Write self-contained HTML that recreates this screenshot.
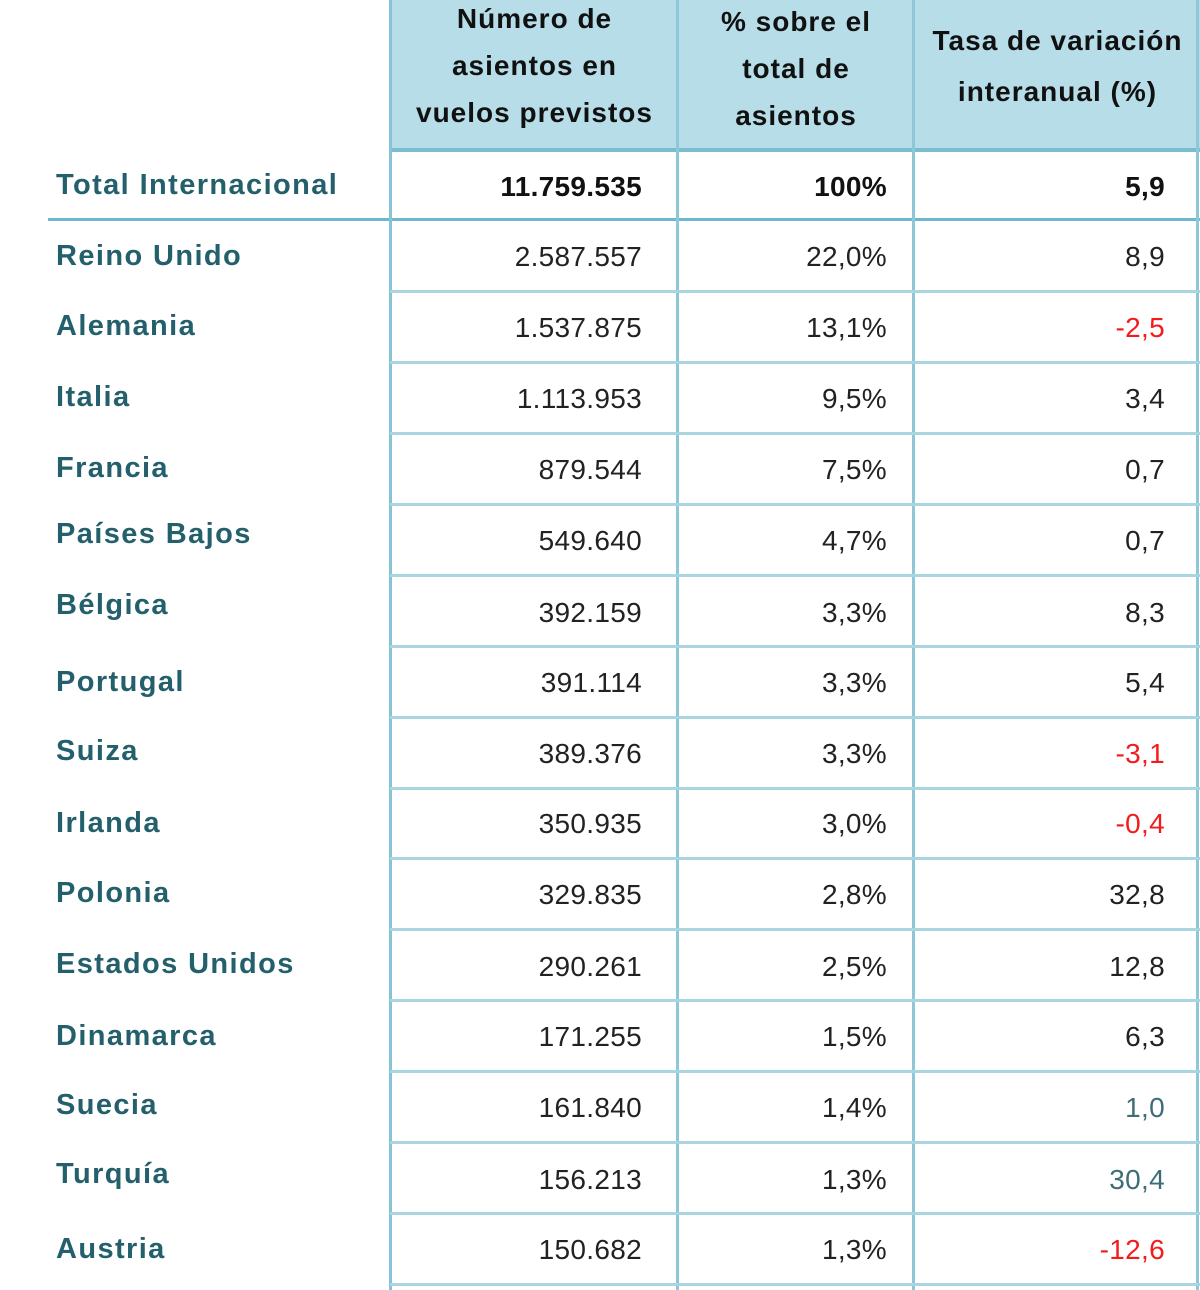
<!DOCTYPE html>
<html><head><meta charset="utf-8"><style>
html,body{margin:0;padding:0;background:#fff;width:1200px;height:1290px;overflow:hidden;position:relative;font-family:"Liberation Sans",sans-serif}
.a{position:absolute}
.hdr{background:#b6dde8;top:0;height:150px}
.ht{position:absolute;font-weight:bold;color:#111;font-size:28px;letter-spacing:1px;text-align:center;line-height:47px}
.v{position:absolute;width:3px;background:#a9d5e1}
.h{position:absolute;height:3px;background:#a9d5e1;left:390px;width:810px}
.lb{position:absolute;left:56px;font-weight:bold;color:#23606c;font-size:29px;letter-spacing:1.4px;line-height:34px}
.n{position:absolute;font-size:28px;color:#222;text-align:right;line-height:34px;letter-spacing:0.3px}
.r{color:#f31b1b}.t{color:#3d6e78}
</style></head><body>
<div class="a hdr" style="left:390px;width:810px"></div>
<div class="ht" style="left:380px;width:309px;top:-5px">Número de<br>asientos en<br>vuelos previstos</div>
<div class="ht" style="left:679px;width:234px;top:-2px">% sobre el<br>total de<br>asientos</div>
<div class="ht" style="left:905px;width:305px;top:15px;line-height:51px">Tasa de variación<br>interanual (%)</div>
<div class="a" style="left:390px;top:148px;width:810px;height:4px;background:#79bdd0"></div>
<div class="a" style="left:48px;top:218px;width:1152px;height:3px;background:#6db7cc"></div>
<div class="v" style="left:389px;top:0;height:1290px;background:#85c4d6"></div>
<div class="v" style="left:676px;top:0;height:1290px;background:#8ec8d8"></div>
<div class="v" style="left:912px;top:0;height:1290px;background:#8ec8d8"></div>
<div class="v" style="left:1196px;top:0;height:1290px;background:#8ec8d8"></div>
<div class="h" style="top:290px"></div><div class="h" style="top:361px"></div><div class="h" style="top:432px"></div><div class="h" style="top:503px"></div><div class="h" style="top:574px"></div><div class="h" style="top:645px"></div><div class="h" style="top:716px"></div><div class="h" style="top:787px"></div><div class="h" style="top:857px"></div><div class="h" style="top:928px"></div><div class="h" style="top:999px"></div><div class="h" style="top:1070px"></div><div class="h" style="top:1141px"></div><div class="h" style="top:1212px"></div><div class="h" style="top:1283px"></div>

<div class="lb" style="top:168px">Total Internacional</div>
<div class="n" style="top:170px;right:558px;font-weight:bold;color:#111">11.759.535</div>
<div class="n" style="top:170px;right:313px;font-weight:bold;color:#111">100%</div>
<div class="n" style="top:170px;right:35px;font-weight:bold;color:#111">5,9</div>

<div class="lb" style="top:239px">Reino Unido</div><div class="n" style="top:240px;right:558px">2.587.557</div><div class="n" style="top:240px;right:313px">22,0%</div><div class="n" style="top:240px;right:35px">8,9</div>
<div class="lb" style="top:309px">Alemania</div><div class="n" style="top:311px;right:558px">1.537.875</div><div class="n" style="top:311px;right:313px">13,1%</div><div class="n r" style="top:311px;right:35px">-2,5</div>
<div class="lb" style="top:380px">Italia</div><div class="n" style="top:382px;right:558px">1.113.953</div><div class="n" style="top:382px;right:313px">9,5%</div><div class="n" style="top:382px;right:35px">3,4</div>
<div class="lb" style="top:451px">Francia</div><div class="n" style="top:453px;right:558px">879.544</div><div class="n" style="top:453px;right:313px">7,5%</div><div class="n" style="top:453px;right:35px">0,7</div>
<div class="lb" style="top:517px">Países Bajos</div><div class="n" style="top:524px;right:558px">549.640</div><div class="n" style="top:524px;right:313px">4,7%</div><div class="n" style="top:524px;right:35px">0,7</div>
<div class="lb" style="top:588px">Bélgica</div><div class="n" style="top:596px;right:558px">392.159</div><div class="n" style="top:596px;right:313px">3,3%</div><div class="n" style="top:596px;right:35px">8,3</div>
<div class="lb" style="top:665px">Portugal</div><div class="n" style="top:666px;right:558px">391.114</div><div class="n" style="top:666px;right:313px">3,3%</div><div class="n" style="top:666px;right:35px">5,4</div>
<div class="lb" style="top:734px">Suiza</div><div class="n" style="top:737px;right:558px">389.376</div><div class="n" style="top:737px;right:313px">3,3%</div><div class="n r" style="top:737px;right:35px">-3,1</div>
<div class="lb" style="top:806px">Irlanda</div><div class="n" style="top:807px;right:558px">350.935</div><div class="n" style="top:807px;right:313px">3,0%</div><div class="n r" style="top:807px;right:35px">-0,4</div>
<div class="lb" style="top:876px">Polonia</div><div class="n" style="top:878px;right:558px">329.835</div><div class="n" style="top:878px;right:313px">2,8%</div><div class="n" style="top:878px;right:35px">32,8</div>
<div class="lb" style="top:947px">Estados Unidos</div><div class="n" style="top:950px;right:558px">290.261</div><div class="n" style="top:950px;right:313px">2,5%</div><div class="n" style="top:950px;right:35px">12,8</div>
<div class="lb" style="top:1019px">Dinamarca</div><div class="n" style="top:1020px;right:558px">171.255</div><div class="n" style="top:1020px;right:313px">1,5%</div><div class="n" style="top:1020px;right:35px">6,3</div>
<div class="lb" style="top:1088px">Suecia</div><div class="n" style="top:1091px;right:558px">161.840</div><div class="n" style="top:1091px;right:313px">1,4%</div><div class="n t" style="top:1091px;right:35px">1,0</div>
<div class="lb" style="top:1157px">Turquía</div><div class="n" style="top:1163px;right:558px">156.213</div><div class="n" style="top:1163px;right:313px">1,3%</div><div class="n t" style="top:1163px;right:35px">30,4</div>
<div class="lb" style="top:1232px">Austria</div><div class="n" style="top:1233px;right:558px">150.682</div><div class="n" style="top:1233px;right:313px">1,3%</div><div class="n r" style="top:1233px;right:35px">-12,6</div>
</body></html>
